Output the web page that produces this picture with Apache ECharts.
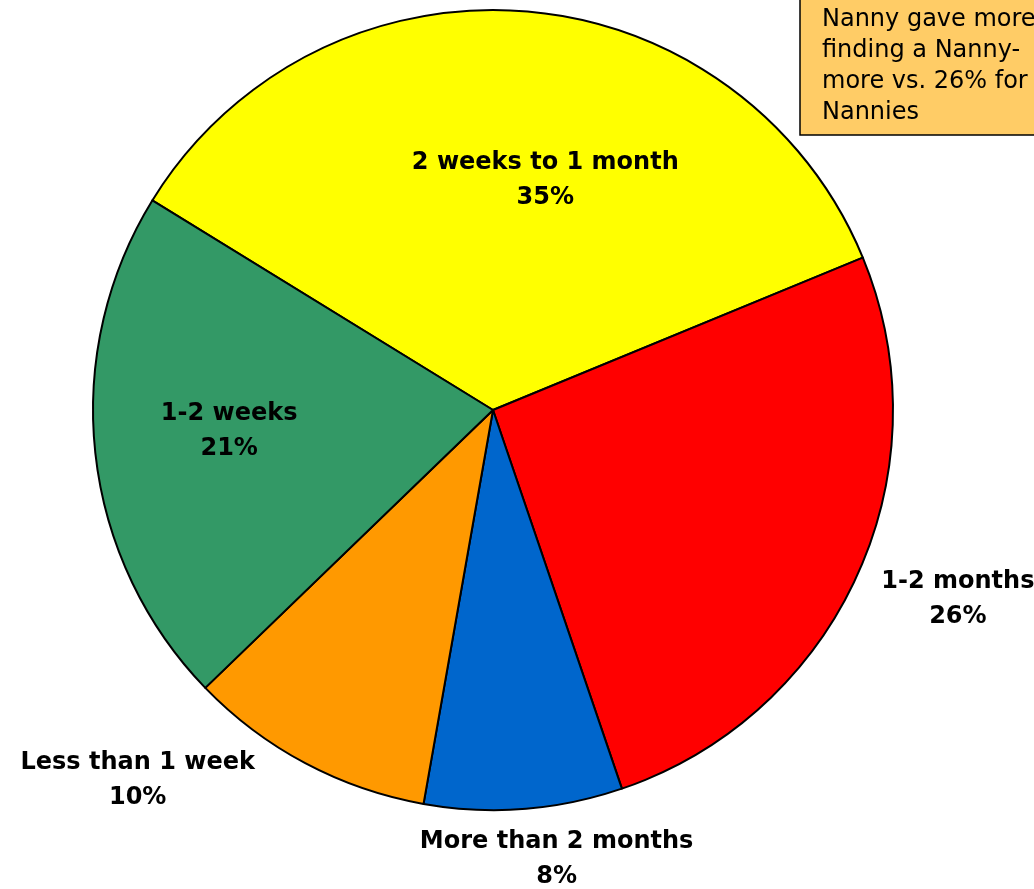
<!DOCTYPE html>
<html>
<head>
<meta charset="utf-8">
<title>Time spent finding a Nanny</title>
<script src="https://cdn.jsdelivr.net/npm/echarts@6/dist/echarts.min.js"></script>
<style>
  html, body { margin: 0; padding: 0; background: #ffffff; }
  #chart { width: 1034px; height: 889px; }
</style>
</head>
<body>
<div id="chart"></div>
<script>
// data, clockwise from the top-left edge of the yellow slice
var categories = ['2 weeks to 1 month', '1-2 months', 'More than 2 months', 'Less than 1 week', '1-2 weeks'];
var shares = [35, 26, 8, 10, 21];
var sliceColors = ['#FFFF00', '#FF0000', '#0066CC', '#FF9900', '#339966'];
var noteLines = ['Nanny gave more', 'finding a Nanny-', 'more vs. 26% for', 'Nannies'];

// label nudges from the default "inside" spot (px)
var labelShift = [[36, -27], [280, 105], [48, 247], [-260, 191], [-62, -1]];

var myChart = echarts.init(document.getElementById('chart'));

var data = [];
for (var i = 0; i < categories.length; i++) {
    data.push({
        value: shares[i],
        name: categories[i],
        itemStyle: { color: sliceColors[i] }
    });
}

myChart.setOption({
    backgroundColor: '#ffffff',
    animation: false,
    graphic: [
        {
            type: 'rect',
            z: 10,
            shape: { x: 800, y: -10, width: 300, height: 145 },
            style: { fill: '#FFCC66', stroke: '#000000', lineWidth: 1.5 }
        },
        {
            type: 'text',
            z: 11,
            x: 822,
            y: 4,
            style: {
                text: noteLines.join('\n'),
                fill: '#000000',
                fontFamily: 'DejaVu Sans',
                fontSize: 24,
                lineHeight: 31,
                align: 'left',
                verticalAlign: 'top'
            }
        }
    ],
    series: [
        {
            type: 'pie',
            center: [493, 410],
            radius: 400,
            startAngle: 148.4,
            clockwise: true,
            avoidLabelOverlap: false,
            data: data,
            itemStyle: {
                borderColor: '#000000',
                borderWidth: 2
            },
            label: {
                show: true,
                position: 'inside',
                formatter: '{b}\n{c}%',
                color: '#000000',
                fontFamily: 'DejaVu Sans',
                fontWeight: 'bold',
                fontSize: 24,
                lineHeight: 35,
                align: 'center'
            },
            labelLine: { show: false },
            labelLayout: function (params) {
                var s = labelShift[params.dataIndex];
                return { dx: s[0], dy: s[1] };
            },
            emphasis: { disabled: true }
        }
    ]
});
</script>
</body>
</html>
